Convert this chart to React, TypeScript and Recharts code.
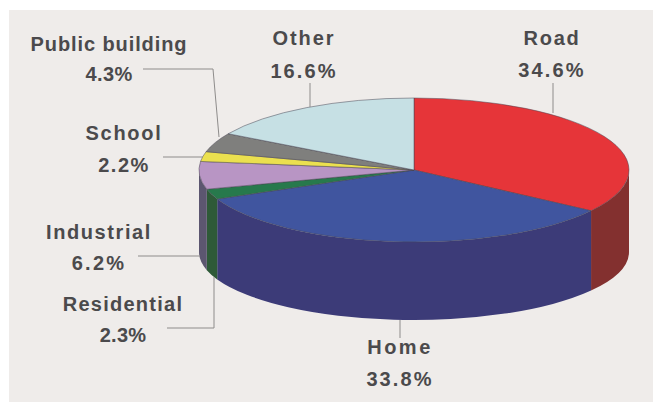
import { Pie, PieChart } from 'recharts';

const CATEGORIES = ['Road', 'Home', 'Residential', 'Industrial', 'School', 'Public building', 'Other'];
const SHARES = [34.6, 33.8, 2.3, 6.2, 2.2, 4.3, 16.6];
const SHARE_LABELS = ['34.6%', '33.8%', '2.3%', '6.2%', '2.2%', '4.3%', '16.6%'];
const TOP_COLORS = ['#e63539', '#40559f', '#27794c', '#b895c4', '#ebe04f', '#7f7f7d', '#c6e0e4'];
const WALL_COLORS = ['#83302f', '#3c3b78', '#2e5a38', '#5c5670', '#5c5670', '#5c5670', '#5c5670'];

const pieData = CATEGORIES.map((name, i) => ({ name, value: SHARES[i], label: SHARE_LABELS[i] }));

const WIDTH = 653;
const HEIGHT = 402;
const CX = 414;
const CY = 170;
const RX = 215;
const RY = 72;
// the rim's lower edge is a slightly flatter ellipse than the top face
const BASE_CY = CY + 82;
const BASE_RY = 68;
const TEXT_COLOR = '#4b4a4c';
const LEADER_COLOR = '#8e8c8b';

// text placement and leader polyline for each slice, in chart pixels
const CALLOUTS = [
  { x: 552, y1: 45, y2: 77, nameGap: 1.7, shareGap: 2.2, line: '553,83 553,113' },
  { x: 400, y1: 354, y2: 386, nameGap: 2.5, shareGap: 2.1, line: '400,320 400,338' },
  { x: 123, y1: 311, y2: 342, nameGap: 1.25, shareGap: 0.2, line: '167,328 214,328 214,277' },
  { x: 99, y1: 239, y2: 270, nameGap: 1.6, shareGap: 2.2, line: '138,256 200,256' },
  { x: 124, y1: 140, y2: 172, nameGap: 1.7, shareGap: 1.5, line: '163,157 203,157' },
  { x: 109, y1: 51, y2: 81, nameGap: 0.9, shareGap: 0.4, line: '143,69 213,69 219,137' },
  { x: 304, y1: 45, y2: 78, nameGap: 1.95, shareGap: 2.1, line: '310,83 310,107' },
];

const rad = (deg: number) => (deg * Math.PI) / 180;
const ex = (deg: number) => CX + RX * Math.cos(rad(deg));
const ey = (deg: number) => CY - RY * Math.sin(rad(deg));
const by = (deg: number) => BASE_CY - BASE_RY * Math.sin(rad(deg));

// flatten the circular sector recharts hands over into a slice of the ellipse
const TopSlice = (props: any) => {
  const { startAngle, endAngle, index } = props;
  const large = Math.abs(startAngle - endAngle) > 180 ? 1 : 0;
  const d = `M${CX},${CY} L${ex(startAngle)},${ey(startAngle)} A${RX},${RY} 0 ${large} 1 ${ex(endAngle)},${ey(endAngle)} Z`;
  return <path d={d} fill={TOP_COLORS[index]} stroke="#4a4654" strokeOpacity={0.5} strokeWidth={1} strokeLinejoin="round" />;
};

// outer wall, only the part of the rim that faces the viewer (-180..0 degrees)
const WallSlice = (props: any) => {
  const { startAngle, endAngle, index } = props;
  const a = Math.min(startAngle, 0);
  const b = Math.max(endAngle, -180);
  if (a <= b) return <g />;
  const d =
    `M${ex(a)},${ey(a)} A${RX},${RY} 0 0 1 ${ex(b)},${ey(b)} ` +
    `L${ex(b)},${by(b)} A${RX},${BASE_RY} 0 0 0 ${ex(a)},${by(a)} Z`;
  return <path d={d} fill={WALL_COLORS[index]} />;
};

const Callout = (props: any) => {
  const { index, payload } = props;
  const c = CALLOUTS[index];
  const text = {
    fill: TEXT_COLOR,
    fontFamily: '"Liberation Sans", Arial, sans-serif',
    fontSize: 20,
    fontWeight: 700,
    textAnchor: 'middle' as const,
  };
  return (
    <g>
      <polyline points={c.line} fill="none" stroke={LEADER_COLOR} strokeWidth={1} />
      <text x={c.x} y={c.y1} letterSpacing={c.nameGap} {...text}>{payload.name}</text>
      <text x={c.x} y={c.y2} letterSpacing={c.shareGap} {...text}>{payload.label}</text>
    </g>
  );
};

export default function App() {
  return (
    <div style={{ position: 'absolute', left: 0, top: 0, width: WIDTH, height: HEIGHT, background: '#fff' }}>
      <div style={{ position: 'absolute', left: 9, top: 10, right: 0, bottom: 0, background: '#efecea' }} />
      <PieChart width={WIDTH} height={HEIGHT} margin={{ top: 0, right: 0, bottom: 0, left: 0 }}>
        <Pie
          data={pieData}
          dataKey="value"
          cx={CX}
          cy={CY}
          outerRadius={RX}
          startAngle={90}
          endAngle={-270}
          stroke="none"
          shape={WallSlice}
          isAnimationActive={false}
        />
        <Pie
          data={pieData}
          dataKey="value"
          cx={CX}
          cy={CY}
          outerRadius={RX}
          startAngle={90}
          endAngle={-270}
          shape={TopSlice}
          label={Callout}
          labelLine={false}
          isAnimationActive={false}
        />
      </PieChart>
    </div>
  );
}
